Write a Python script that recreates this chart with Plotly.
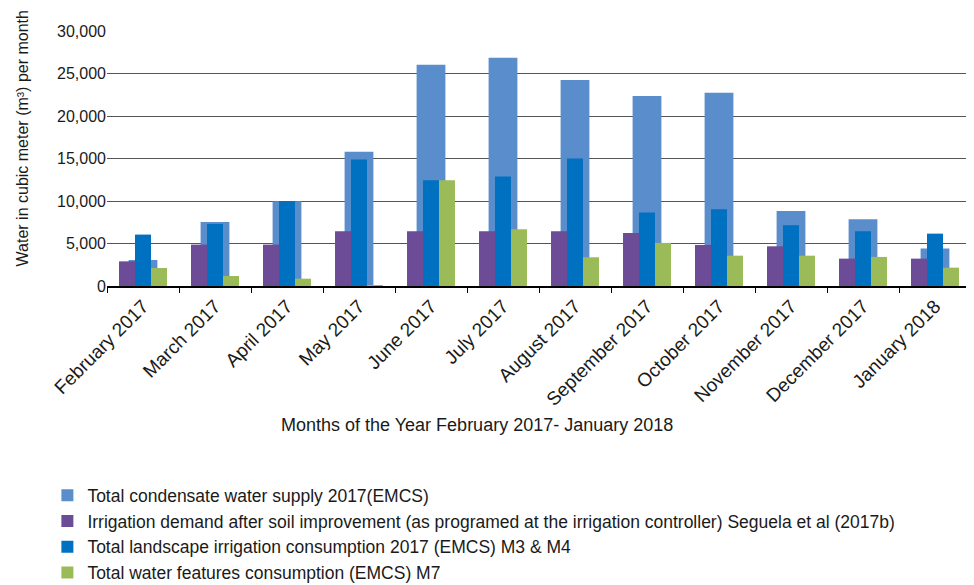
import plotly.graph_objects as go

months = ["February 2017", "March 2017", "April 2017", "May 2017", "June 2017",
          "July 2017", "August 2017", "September 2017", "October 2017",
          "November 2017", "December 2017", "January 2018"]

condensate = [3060, 7540, 9970, 15790, 26030, 26860, 24230, 22340, 22740, 8830, 7850, 4400]
irrigation_demand = [2900, 4870, 4870, 6440, 6440, 6440, 6440, 6240, 4830, 4670, 3220, 3220]
landscape = [6050, 7300, 10000, 14880, 12450, 12880, 15000, 8640, 9030, 7150, 6440, 6160]
water_features = [2120, 1180, 860, 100, 12450, 6680, 3380, 5070, 3570, 3570, 3420, 2160]

names = [
    "Total condensate water supply 2017(EMCS)",
    "Irrigation demand after soil improvement (as programed at the irrigation controller) Seguela et al (2017b)",
    "Total landscape irrigation consumption 2017 (EMCS) M3 & M4",
    "Total water features consumption (EMCS) M7",
]
colors = ["#5a8dcc", "#6c4c96", "#0070c0", "#9bbb59"]

FONT = "Liberation Sans, Arial, sans-serif"

fig = go.Figure()
fig.add_trace(go.Bar(x=months, y=condensate, name=names[0], marker_color=colors[0],
                     width=0.4, offset=-0.2, marker_line_width=0))
fig.add_trace(go.Bar(x=months, y=irrigation_demand, name=names[1], marker_color=colors[1],
                     width=0.222, offset=-0.333, marker_line_width=0))
fig.add_trace(go.Bar(x=months, y=landscape, name=names[2], marker_color=colors[2],
                     width=0.222, offset=-0.111, marker_line_width=0))
fig.add_trace(go.Bar(x=months, y=water_features, name=names[3], marker_color=colors[3],
                     width=0.222, offset=0.111, marker_line_width=0))

fig.update_layout(
    width=974, height=585,
    barmode="overlay",
    plot_bgcolor="white", paper_bgcolor="white",
    margin=dict(l=99, r=11, t=23, b=307, autoexpand=False),
    font=dict(family=FONT, size=16, color="#1a1a1a"),
    showlegend=True,
    legend=dict(x=-0.069, y=-0.75, xanchor="left", yanchor="top",
                orientation="v", font=dict(size=17.5), tracegroupgap=0,
                bgcolor="rgba(0,0,0,0)"),
    xaxis=dict(
        type="category", tickangle=-45, showgrid=False,
        showline=True, linecolor="black", linewidth=1.5,
        ticks="outside", tickson="boundaries", ticklen=5, tickcolor="black",
        tickfont=dict(size=19), range=[-0.5, 11.5],
    ),
    yaxis=dict(
        range=[0, 30000], tickvals=[0, 5000, 10000, 15000, 20000, 25000, 30000],
        tickformat=",", showgrid=True, gridcolor="#555555", gridwidth=1,
        showline=False, zeroline=False, ticks="", tickfont=dict(size=16),
    ),
    annotations=[
        dict(text="Water in cubic meter (m³) per month", xref="paper", yref="paper",
             x=-0.098, y=0.58, textangle=-90, showarrow=False,
             xanchor="center", yanchor="middle", font=dict(size=16)),
        dict(text="Months of the Year February 2017- January 2018", xref="paper", yref="paper",
             x=0.428, y=-0.545, showarrow=False, xanchor="center", yanchor="middle",
             font=dict(size=18)),
    ],
)

fig.write_html("out.html")
